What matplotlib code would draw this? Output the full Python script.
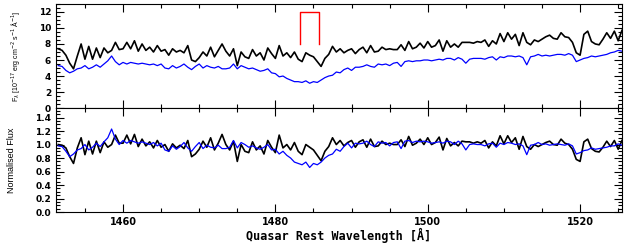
import numpy as np
import matplotlib
matplotlib.use("Agg")
import matplotlib.pyplot as plt
from matplotlib.ticker import MultipleLocator
from matplotlib import font_manager

# wavelength grid (rest frame, Angstrom)
wave = np.arange(1451.5, 1525.51, 0.5)

# flux of the quasar (black) and comparison spectrum (blue), 1e-17 erg/cm2/s/A
flux_black = [
    7.4, 7.2, 6.6, 5.6, 4.9, 6.5, 8.0, 6.1, 7.7, 6.1,
    7.5, 6.3, 7.5, 6.9, 7.2, 8.2, 7.3, 7.4, 8.2, 7.4,
    8.4, 7.1, 8.0, 7.2, 7.6, 7.0, 7.8, 7.1, 7.3, 6.6,
    7.4, 7.0, 7.2, 6.9, 7.8, 6.0, 5.8, 6.3, 7.0, 6.5,
    7.6, 6.4, 7.2, 8.0, 7.1, 6.5, 7.4, 5.3, 7.0, 6.4,
    6.2, 7.3, 6.5, 6.9, 6.0, 7.5, 6.8, 6.2, 7.8, 6.5,
    6.9, 6.3, 7.0, 6.1, 5.8, 6.9, 6.6, 6.4, 5.8, 5.2,
    6.2, 6.7, 7.7, 7.0, 7.4, 6.9, 7.2, 7.4, 6.8, 7.3,
    7.6, 6.9, 7.8, 7.0, 7.1, 7.6, 7.3, 7.4, 7.3, 7.3,
    7.9, 7.2, 8.3, 7.4, 7.6, 8.1, 7.5, 8.3, 7.6, 7.8,
    8.5, 7.1, 8.4, 7.6, 8.0, 7.6, 8.2, 8.2, 8.2, 8.1,
    8.3, 8.2, 8.5, 7.7, 8.4, 8.0, 9.3, 8.3, 9.4, 8.6,
    9.2, 7.8, 9.4, 8.2, 7.9, 8.5, 8.3, 8.6, 8.9, 9.1,
    8.7, 8.6, 9.4, 8.9, 8.8, 8.2, 6.9, 6.6, 9.2, 9.6,
    8.3, 8.0, 7.9, 8.6, 9.4, 8.7, 9.6, 8.4, 9.7,
]
flux_blue = [
    5.3, 5.2, 4.7, 4.4, 4.6, 4.9, 5.0, 5.3, 4.9, 5.1,
    5.4, 5.1, 5.5, 5.9, 6.5, 5.8, 5.4, 5.7, 5.5, 5.7,
    5.6, 5.5, 5.6, 5.5, 5.4, 5.5, 5.3, 5.5, 5.0, 4.9,
    5.3, 5.0, 5.2, 5.5, 5.1, 4.8, 5.2, 5.5, 5.0, 5.3,
    5.1, 5.0, 5.2, 4.9, 4.9, 5.0, 5.5, 4.9, 5.3, 5.1,
    4.9, 5.0, 4.8, 4.6, 4.7, 4.9, 4.4, 4.3, 3.9, 4.0,
    3.7, 3.5, 3.3, 3.3, 3.2, 3.4, 3.1, 3.3, 3.2, 3.5,
    3.8, 4.0, 4.1, 4.5, 4.4, 4.8, 5.0, 4.7, 5.1, 5.1,
    5.2, 5.4, 5.2, 5.1, 5.5, 5.4, 5.5, 5.3, 5.6, 5.7,
    5.2, 5.8, 5.9, 5.8, 5.9, 5.9, 6.0, 6.0, 5.9, 6.0,
    6.1, 6.0, 6.2, 6.2, 6.0, 6.3, 6.1, 5.6, 6.1, 6.2,
    6.2, 6.2, 6.1, 6.3, 6.4, 6.0, 6.4, 6.3, 6.5, 6.5,
    6.4, 6.5, 6.3, 5.4, 6.4, 6.5, 6.7, 6.5, 6.6, 6.5,
    6.6, 6.7, 6.7, 6.6, 6.8, 6.6, 5.8, 6.0, 6.2, 6.3,
    6.5, 6.4, 6.5, 6.6, 6.7, 6.9, 7.0, 7.2, 7.1,
]

# continuum-normalised versions
norm_black = [
    1.0, 0.99, 0.95, 0.82, 0.72, 0.95, 1.1, 0.85, 1.05, 0.86,
    1.05, 0.88, 1.04, 0.96, 1.0, 1.14, 1.02, 1.02, 1.14, 1.01,
    1.15, 0.97, 1.08, 0.98, 1.04, 0.95, 1.06, 0.96, 1.0, 0.9,
    1.01, 0.95, 0.99, 0.94, 1.06, 0.82, 0.86, 0.93, 1.05, 0.96,
    1.1, 0.92, 1.02, 1.15, 1.0, 0.92, 1.05, 0.75, 1.0, 0.9,
    0.88, 1.04, 0.92, 0.98, 0.86, 1.06, 0.96, 0.88, 1.14, 0.95,
    1.0, 0.92, 1.03, 0.9, 0.85, 1.0, 0.96, 0.92, 0.84, 0.76,
    0.9, 0.97, 1.1, 1.0, 1.06, 0.98, 1.03, 1.06, 0.96, 1.04,
    1.07, 0.96, 1.08, 0.97, 0.98, 1.05, 1.0, 1.02, 1.0, 1.0,
    1.07, 0.97, 1.12, 0.99, 1.02, 1.08, 1.0, 1.1, 1.0, 1.03,
    1.11, 0.92, 1.09, 0.98, 1.03, 0.98, 1.05, 1.04, 1.04, 1.02,
    1.04, 1.02, 1.06, 0.95, 1.04, 0.98, 1.13, 1.01, 1.13, 1.03,
    1.1, 0.93, 1.12, 0.97, 0.93, 1.0, 0.97, 1.0, 1.03, 1.05,
    1.0, 0.99, 1.08, 1.02, 1.0, 0.93, 0.78, 0.75, 1.04, 1.08,
    0.94, 0.9, 0.89, 0.96, 1.05, 0.97, 1.06, 0.93, 1.06,
]
norm_blue = [
    0.98, 0.97, 0.9, 0.82, 0.86, 0.92, 0.94, 1.0, 0.92, 0.96,
    1.02, 0.97, 1.04, 1.1, 1.23, 1.08, 1.0, 1.06, 1.02, 1.06,
    1.04, 1.02, 1.04, 1.02, 1.0, 1.03, 0.98, 1.02, 0.92, 0.9,
    0.98, 0.93, 0.97, 1.03, 0.95, 0.9, 0.97, 1.03, 0.94, 0.99,
    0.96, 0.95, 0.99, 0.94, 0.94, 0.96, 1.06, 0.95, 1.03, 1.0,
    0.96, 0.98, 0.95, 0.93, 0.96, 1.0, 0.92, 0.93, 0.86, 0.9,
    0.84, 0.8, 0.74, 0.72, 0.7, 0.74, 0.66, 0.72, 0.7, 0.74,
    0.8, 0.84, 0.86, 0.93, 0.9, 0.97, 1.02, 0.95, 1.02, 1.01,
    1.02, 1.05, 1.0, 0.97, 1.04, 1.02, 1.03, 0.98, 1.03, 1.04,
    0.94, 1.05, 1.06, 1.03, 1.05, 1.04, 1.05, 1.04, 1.02, 1.03,
    1.04, 1.02, 1.05, 1.04, 1.0, 1.05, 1.01, 0.92, 1.0, 1.01,
    1.0, 1.0, 0.98, 1.01, 1.02, 0.96, 1.02, 1.0, 1.03, 1.02,
    1.0, 1.01, 0.98, 0.85, 0.99, 1.0, 1.03, 1.0, 1.01, 0.99,
    1.0, 1.01, 1.0, 0.99, 1.01, 0.98, 0.86, 0.88, 0.91, 0.92,
    0.95, 0.93, 0.94, 0.95, 0.96, 0.98, 0.98, 1.01, 0.99,
]

# red bracket marking the absorption feature
bracket_x = [1483.2, 1483.2, 1485.7, 1485.7]
bracket_y = [8.0, 12.0, 12.0, 8.0]

xmin, xmax = 1451.2, 1525.5

# narrow font for the y labels if it is there
names = {f.name for f in font_manager.fontManager.ttflist}
narrow = 'Liberation Sans Narrow' if 'Liberation Sans Narrow' in names else 'Liberation Sans'

fig = plt.figure(figsize=(6.27, 2.44), dpi=100)
ax1 = fig.add_axes([0.0893, 0.557, 0.9027, 0.427])
ax2 = fig.add_axes([0.0893, 0.131, 0.9027, 0.426])

ax1.plot(wave, flux_black, color='black', lw=1.2)
ax1.plot(wave, flux_blue, color='blue', lw=0.9)
ax1.plot(bracket_x, bracket_y, color='red', lw=1.0)
ax1.set_ylim(0, 13)
ax1.yaxis.set_major_locator(MultipleLocator(2))
ax1.yaxis.set_minor_locator(MultipleLocator(0.5))

ax2.plot(wave, norm_black, color='black', lw=1.2)
ax2.plot(wave, norm_blue, color='blue', lw=0.9)
ax2.set_ylim(0, 1.54)
ax2.yaxis.set_major_locator(MultipleLocator(0.2))
ax2.yaxis.set_minor_locator(MultipleLocator(0.05))
ax2.yaxis.set_major_formatter(plt.FormatStrFormatter('%.1f'))

for ax in (ax1, ax2):
    ax.set_xlim(xmin, xmax)
    ax.xaxis.set_major_locator(MultipleLocator(20))
    ax.xaxis.set_minor_locator(MultipleLocator(5))
    ax.tick_params(which='both', direction='in', top=True, right=True,
                   width=0.8, labelsize=7)
    ax.tick_params(axis='y', labelsize=6.5)
    ax.tick_params(which='major', length=6)
    ax.tick_params(which='minor', length=3)
    for lab in ax.get_yticklabels() + ax.get_xticklabels():
        lab.set_fontweight('bold')
    for s in ax.spines.values():
        s.set_linewidth(0.8)

ax1.tick_params(labelbottom=False)

ax1.set_ylabel(r'F$_\lambda$ [10$^{-17}$ erg cm$^{-2}$ s$^{-1}$ Å$^{-1}$]',
               fontsize=5, family=narrow)
ax1.yaxis.set_label_coords(-0.06, 0.5)
ax2.set_ylabel('Normalised Flux', fontsize=6.5, family=narrow)
ax2.yaxis.set_label_coords(-0.07, 0.5)
ax2.set_xlabel('Quasar Rest Wavelength [Å]', family='DejaVu Sans Mono',
               fontweight='bold', fontsize=8.5, labelpad=1)

fig.savefig('out.png', dpi=100)
